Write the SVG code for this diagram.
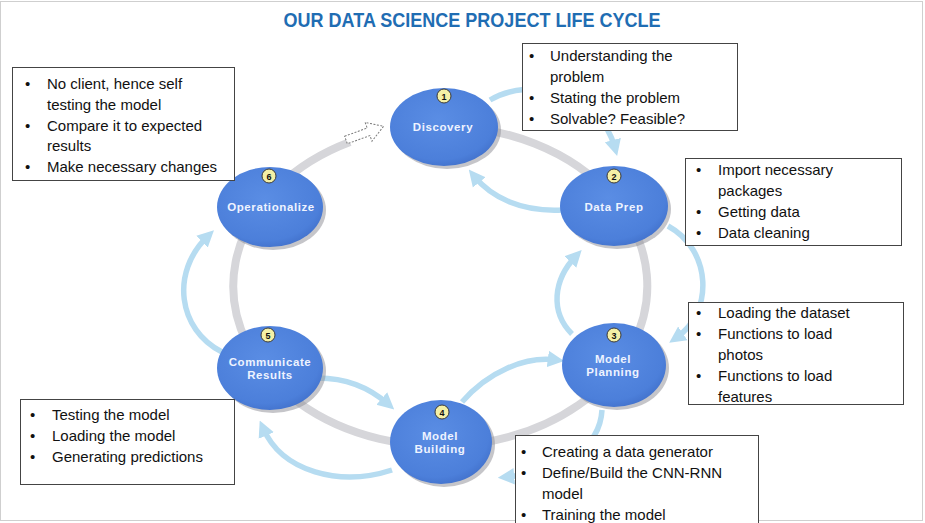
<svg xmlns="http://www.w3.org/2000/svg" width="925" height="523" viewBox="0 0 925 523">
<defs>
<style>
.title{font-family:"Liberation Sans",Arial,sans-serif;font-weight:bold;font-size:20px;fill:#1f6db3}
.box{fill:#fff;stroke:#444;stroke-width:1}
.bt{font-family:"Liberation Sans",Arial,sans-serif;font-size:15px;fill:#111}
.nl{font-family:"Liberation Sans",Arial,sans-serif;font-weight:bold;font-size:11.5px;fill:#eef3ff;letter-spacing:0.6px;text-anchor:middle}
.badge{fill:#f4f0a6;stroke:#3a3a3a;stroke-width:1}
.bn{font-family:"Liberation Sans",Arial,sans-serif;font-weight:bold;font-size:9px;fill:#111;text-anchor:middle}
.shadow{fill:#8c8c94;opacity:0.5}
.node{fill:url(#ng)}
.ring{fill:none;stroke:#d6d6da;stroke-width:8}
.blue{fill:none;stroke:#b6dcf1;stroke-width:5.5;marker-end:url(#ah)}
</style>
<radialGradient id="ng" cx="0.45" cy="0.4" r="0.65">
<stop offset="0" stop-color="#5a8de4"/>
<stop offset="0.8" stop-color="#4c7fda"/>
<stop offset="1" stop-color="#406fc9"/>
</radialGradient>
<marker id="ah" viewBox="0 0 10 10" refX="5" refY="5" markerWidth="3" markerHeight="3.2" orient="auto" markerUnits="strokeWidth">
<path d="M0,0 L10,5 L0,10 Z" fill="#b6dcf1"/>
</marker>
</defs>
<rect x="0" y="0" width="925" height="523" fill="#fff"/>
<rect x="0.5" y="1.5" width="922" height="519" fill="none" stroke="#cfcfcf" stroke-width="1"/>
<text class="title" x="472" y="27" text-anchor="middle" textLength="377" lengthAdjust="spacingAndGlyphs">OUR DATA SCIENCE PROJECT LIFE CYCLE</text>

<g id="connectors">
<path class="ring" d="M444,126 A207,160 0 1 1 350,142"/>
<path d="M0,-4 L24,-4 L24,-10 L40,0 L24,10 L24,4 L0,4 Z" transform="translate(346,140) rotate(-20)" fill="#fff" stroke="#777" stroke-width="1" stroke-dasharray="2 1.5"/>
<path class="blue" d="M490,100 C530,76 600,92 615,148"/>
<path class="blue" d="M562,210 C522,212 492,198 474,176"/>
<path class="blue" d="M668,226 C712,250 714,312 676,338"/>
<path class="blue" d="M572,334 C550,312 553,280 576,256"/>
<path class="blue" d="M462,402 C488,372 525,356 556,360"/>
<path class="blue" d="M602,410 C600,448 562,472 506,477"/>
<path class="blue" d="M318,378 C350,378 372,390 388,404"/>
<path class="blue" d="M392,470 C340,487 282,472 263,428"/>
<path class="blue" d="M222,352 C178,330 170,272 208,236"/>
</g>

<g id="n1">
<ellipse class="shadow" cx="447" cy="130" rx="54" ry="39"/>
<ellipse class="node" cx="444" cy="127" rx="54" ry="39"/>
<circle class="badge" cx="444" cy="96" r="7"/><text class="bn" x="444" y="99.5">1</text>
<text class="nl" x="443" y="131">Discovery</text>
</g>
<g id="n2">
<ellipse class="shadow" cx="617" cy="209" rx="54" ry="40"/>
<ellipse class="node" cx="614" cy="206" rx="54" ry="40"/>
<circle class="badge" cx="614" cy="176" r="7"/><text class="bn" x="614" y="179.5">2</text>
<text class="nl" x="614" y="211">Data Prep</text>
</g>
<g id="n3">
<ellipse class="shadow" cx="617" cy="368" rx="52" ry="42"/>
<ellipse class="node" cx="614" cy="365" rx="52" ry="42"/>
<circle class="badge" cx="614" cy="335" r="7"/><text class="bn" x="614" y="338.5">3</text>
<text class="nl" x="613" y="363">Model</text>
<text class="nl" x="613" y="376">Planning</text>
</g>
<g id="n4">
<ellipse class="shadow" cx="444" cy="445" rx="51" ry="42"/>
<ellipse class="node" cx="441" cy="442" rx="51" ry="42"/>
<circle class="badge" cx="442" cy="412" r="7"/><text class="bn" x="442" y="415.5">4</text>
<text class="nl" x="440" y="440">Model</text>
<text class="nl" x="440" y="453">Building</text>
</g>
<g id="n5">
<ellipse class="shadow" cx="273" cy="371" rx="53" ry="42"/>
<ellipse class="node" cx="270" cy="368" rx="53" ry="42"/>
<circle class="badge" cx="268" cy="335" r="7"/><text class="bn" x="268" y="338.5">5</text>
<text class="nl" x="270" y="366">Communicate</text>
<text class="nl" x="270" y="379">Results</text>
</g>
<g id="n6">
<ellipse class="shadow" cx="273" cy="210" rx="53" ry="40"/>
<ellipse class="node" cx="270" cy="207" rx="53" ry="40"/>
<circle class="badge" cx="269" cy="176" r="7"/><text class="bn" x="269" y="179.5">6</text>
<text class="nl" x="271" y="211">Operationalize</text>
</g>

<g id="boxA">
<rect class="box" x="522.5" y="43.5" width="215" height="87"/>
<text class="bt"><tspan x="529" y="61">•</tspan><tspan x="550" y="61">Understanding the</tspan><tspan x="550" y="82">problem</tspan><tspan x="529" y="103">•</tspan><tspan x="550" y="103">Stating the problem</tspan><tspan x="529" y="124">•</tspan><tspan x="550" y="124">Solvable? Feasible?</tspan></text>
</g>
<g id="boxB">
<rect class="box" x="685.5" y="158.5" width="216" height="87"/>
<text class="bt"><tspan x="696" y="175">•</tspan><tspan x="718" y="175">Import necessary</tspan><tspan x="718" y="196">packages</tspan><tspan x="696" y="217">•</tspan><tspan x="718" y="217">Getting data</tspan><tspan x="696" y="238">•</tspan><tspan x="718" y="238">Data cleaning</tspan></text>
</g>
<g id="boxC">
<rect class="box" x="688.5" y="302.5" width="215" height="102"/>
<text class="bt"><tspan x="696" y="318">•</tspan><tspan x="718" y="318">Loading the dataset</tspan><tspan x="696" y="339">•</tspan><tspan x="718" y="339">Functions to load</tspan><tspan x="718" y="360">photos</tspan><tspan x="696" y="381">•</tspan><tspan x="718" y="381">Functions to load</tspan><tspan x="718" y="402">features</tspan></text>
</g>
<g id="boxD">
<rect class="box" x="515.5" y="435.5" width="243" height="92"/>
<text class="bt"><tspan x="521" y="457">•</tspan><tspan x="542" y="457">Creating a data generator</tspan><tspan x="521" y="478">•</tspan><tspan x="542" y="478">Define/Build the CNN-RNN</tspan><tspan x="542" y="499">model</tspan><tspan x="521" y="520">•</tspan><tspan x="542" y="520">Training the model</tspan></text>
</g>
<g id="boxE">
<rect class="box" x="20.5" y="399.5" width="214" height="85"/>
<text class="bt"><tspan x="30" y="420">•</tspan><tspan x="52" y="420">Testing the model</tspan><tspan x="30" y="441">•</tspan><tspan x="52" y="441">Loading the model</tspan><tspan x="30" y="462">•</tspan><tspan x="52" y="462">Generating predictions</tspan></text>
</g>
<g id="boxF">
<rect class="box" x="12.5" y="67.5" width="222" height="113"/>
<text class="bt"><tspan x="25" y="89">•</tspan><tspan x="47" y="89">No client, hence self</tspan><tspan x="47" y="110">testing the model</tspan><tspan x="25" y="131">•</tspan><tspan x="47" y="131">Compare it to expected</tspan><tspan x="47" y="151">results</tspan><tspan x="25" y="172">•</tspan><tspan x="47" y="172">Make necessary changes</tspan></text>
</g>
</svg>
